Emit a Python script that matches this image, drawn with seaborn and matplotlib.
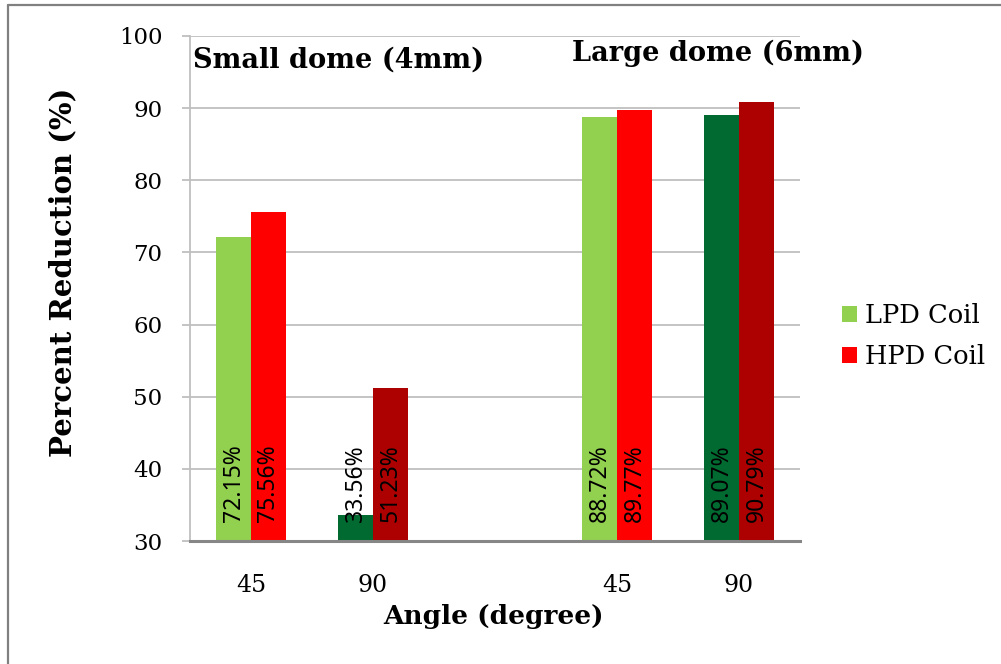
import matplotlib
matplotlib.use("Agg")
import matplotlib.pyplot as plt
from matplotlib.patches import Patch
from matplotlib.lines import Line2D
import numpy as np
import pandas as pd
import seaborn as sns

# Data
positions = [0, 1, 3, 4]            # slot 2 is left empty between the two dome sizes
angle_labels = ["45", "90", "45", "90"]
lpd_values = [72.15, 33.56, 88.72, 89.07]
hpd_values = [75.56, 51.23, 89.77, 90.79]
coils = ["LPD Coil", "HPD Coil"]

# Colours: lighter shades for 45 degrees, darker shades for 90 degrees
lpd_colors = ["#92D050", "#006A30", "#92D050", "#006A30"]
hpd_colors = ["#FF0000", "#AD0000", "#FF0000", "#AD0000"]

df = pd.DataFrame({
    "pos": positions * 2,
    "value": lpd_values + hpd_values,
    "coil": [coils[0]] * 4 + [coils[1]] * 4,
})

sns.set_theme(style="white")
plt.rcParams["font.family"] = ["DejaVu Serif"]
plt.rcParams["text.color"] = "black"
plt.rcParams["axes.labelcolor"] = "black"
plt.rcParams["xtick.color"] = "black"
plt.rcParams["ytick.color"] = "black"

fig = plt.figure(figsize=(10.01, 6.64), dpi=100)
ax = fig.add_axes([190 / 1001, 1 - 541 / 664, 610 / 1001, 505 / 664])

sns.barplot(data=df, x="pos", y="value", hue="coil", hue_order=coils,
            palette=["#92D050", "#FF0000"], native_scale=True, width=0.57,
            saturation=1, linewidth=0, ax=ax, legend=False, errorbar=None)

ax.set_xlim(-0.5, 4.5)
ax.set_ylim(30, 100)
ax.set_yticks(np.arange(30, 101, 10))
ax.set_xticks(positions)
ax.set_xticklabels(angle_labels)

# Recolour bars and add rotated value labels inside each bar
for container, values, colors in zip(ax.containers, [lpd_values, hpd_values],
                                     [lpd_colors, hpd_colors]):
    for bar, val, col in zip(container, values, colors):
        bar.set_facecolor(col)
        bar.set_edgecolor("none")
        cx = bar.get_x() + bar.get_width() / 2
        ax.text(cx, 32.6, f"{val:.2f}%", rotation=90, ha="center", va="bottom",
                fontsize=16.5, family=["Noto Sans", "DejaVu Sans"], color="black",
                zorder=5)

# Grid and spines
ax.yaxis.grid(True, color="#BFBFBF", linewidth=1.3)
ax.xaxis.grid(False)
ax.set_axisbelow(True)
for side in ["top", "right"]:
    ax.spines[side].set_visible(False)
ax.spines["left"].set_color("#BFBFBF")
ax.spines["left"].set_linewidth(1.3)
ax.spines["bottom"].set_color("#868686")
ax.spines["bottom"].set_linewidth(2.2)
ax.spines["bottom"].set_zorder(6)

ax.tick_params(axis="y", which="major", left=True, length=6, width=1.3,
               color="#BFBFBF", pad=14, labelsize=16.5, labelcolor="black")
ax.tick_params(axis="x", which="major", bottom=False, length=0, pad=24,
               labelsize=17, labelcolor="black")

ax.set_xlabel("Angle (degree)", fontsize=19, fontweight="bold", color="black")
ax.set_ylabel("Percent Reduction (%)", fontsize=21, fontweight="bold", color="black")
ax.xaxis.set_label_coords(0.498, -0.125)
ax.yaxis.set_label_coords(-0.185, 0.533)

# Group titles
ax.text(0.005, 0.952, "Small dome (4mm)", transform=ax.transAxes, fontsize=19.6,
        fontweight="bold", ha="left", va="center", clip_on=False, color="black")
ax.text(0.626, 0.966, "Large dome (6mm)", transform=ax.transAxes, fontsize=19.6,
        fontweight="bold", ha="left", va="center", clip_on=False, color="black")

# Legend
handles = [Patch(facecolor="#92D050", edgecolor="none"),
           Patch(facecolor="#FF0000", edgecolor="none")]
leg = fig.legend(handles, coils, loc="center left",
                 bbox_to_anchor=(842 / 1001, 1 - 336 / 664),
                 frameon=False, fontsize=18.5, handlelength=0.6, handleheight=0.6,
                 handletextpad=0.3, labelspacing=0.62, borderaxespad=0, borderpad=0)
for t in leg.get_texts():
    t.set_color("black")

# Chart-area border (left and top edges)
fig.add_artist(Line2D([8 / 1001, 8 / 1001], [0, 1 - 5 / 664], transform=fig.transFigure,
                      color="#808080", linewidth=1.6))
fig.add_artist(Line2D([8 / 1001, 1], [1 - 5 / 664, 1 - 5 / 664], transform=fig.transFigure,
                      color="#808080", linewidth=1.6))

fig.savefig("out.png", dpi=100)
